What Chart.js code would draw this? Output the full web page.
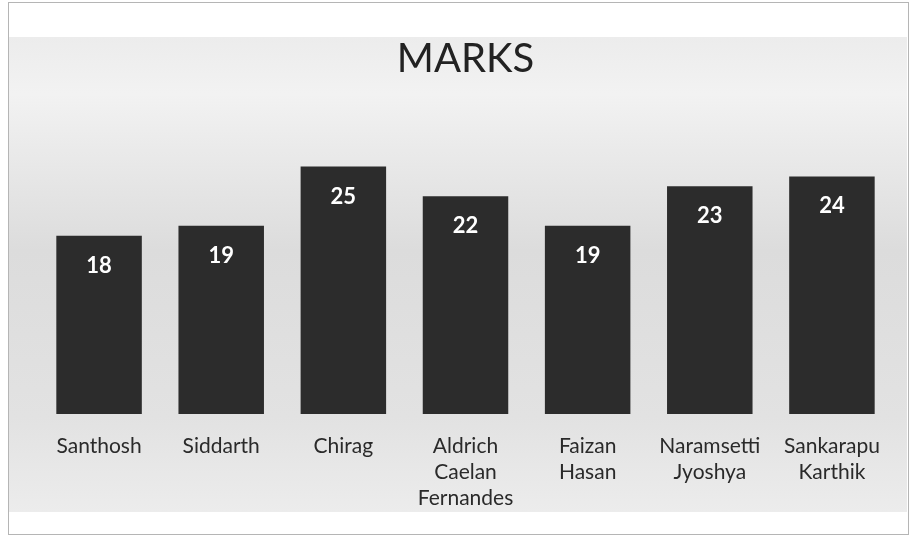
<!DOCTYPE html>
<html>
<head>
<meta charset="utf-8">
<script src="https://cdn.jsdelivr.net/npm/chart.js@4"></script>
<style>
  html, body { margin: 0; padding: 0; background: #fff; }
  #wrap { width: 911px; height: 537px; }
</style>
</head>
<body>
<div id="wrap"><canvas id="marksChart" width="911" height="537"></canvas></div>
<script>
// names (split over lines like the original axis)
const students = [
  'Santhosh',
  'Siddarth',
  'Chirag',
  ['Aldrich', 'Caelan', 'Fernandes'],
  ['Faizan', 'Hasan'],
  ['Naramsetti', 'Jyoshya'],
  ['Sankarapu', 'Karthik']
]
const marks = [18, 19, 25, 22, 19, 23, 24]

// grey paper-like backdrop + frame
const backdrop = {
  id: 'backdrop',
  beforeDraw(chart) {
    const ctx = chart.ctx
    ctx.save()
    ctx.fillStyle = '#fff'
    ctx.fillRect(0, 0, chart.width, chart.height)
    const g = ctx.createLinearGradient(0, 37, 0, 512)
    g.addColorStop(0, '#ececec')
    g.addColorStop(0.12, '#f2f2f2')
    g.addColorStop(0.45, '#dcdcdc')
    g.addColorStop(0.8, '#e2e2e2')
    g.addColorStop(1, '#ececec')
    ctx.fillStyle = g
    ctx.fillRect(9, 37, 898, 475)
    ctx.strokeStyle = '#b5b5b5'
    ctx.lineWidth = 1
    ctx.strokeRect(8.5, 2.5, 900, 532)
    ctx.restore()
  }
}

// value labels inside the bars
const barValues = {
  id: 'barValues',
  afterDatasetsDraw(chart) {
    const ctx = chart.ctx
    const meta = chart.getDatasetMeta(0)
    ctx.save()
    ctx.fillStyle = '#fff'
    ctx.font = 'bold 22px Lato'
    ctx.textAlign = 'center'
    ctx.textBaseline = 'middle'
    meta.data.forEach((bar, i) => {
      ctx.fillText(marks[i], bar.x, bar.y + 30)
    })
    ctx.restore()
  }
}

const data = {
  labels: students,
  datasets: [
    {
      data: marks,
      backgroundColor: '#2c2c2c',
      borderWidth: 0,
      barPercentage: 0.7,
      categoryPercentage: 1
    }
  ]
}

const options = {
  responsive: false,
  animation: false,
  layout: { padding: { left: 38, right: 18, top: 0, bottom: 7 } },
  plugins: {
    legend: { display: false },
    tooltip: { enabled: false },
    title: {
      display: true,
      text: 'MARKS',
      color: '#222',
      font: { family: 'Lato', size: 40, weight: 'normal', lineHeight: 1.2 },
      padding: { top: 35, bottom: 34 }
    }
  },
  scales: {
    x: {
      grid: { display: false, drawTicks: false },
      border: { display: false },
      ticks: {
        color: '#2a2a2a',
        padding: 19,
        maxRotation: 0,
        autoSkip: false,
        font: { family: 'Lato', size: 21, lineHeight: 1.24 }
      }
    },
    y: {
      display: false,
      min: 0,
      max: 30
    }
  }
}

new Chart('marksChart', { type: 'bar', data, options, plugins: [backdrop, barValues] })
</script>
</body>
</html>
